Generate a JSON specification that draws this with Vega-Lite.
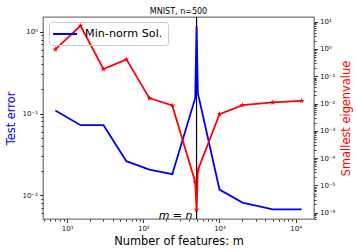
{
  "$schema": "https://vega.github.io/schema/vega-lite/v6.json",
  "width": 271,
  "height": 202,
  "autosize": {"type": "none"},
  "padding": {"left": 43, "top": 17, "right": 43, "bottom": 33},
  "background": "white",
  "title": {"text": "MNIST, n=500", "fontSize": 8, "font": "DejaVu Sans", "fontWeight": "normal", "color": "black", "offset": 0},
  "config": {
    "font": "DejaVu Sans",
    "view": {"stroke": "#777777", "strokeWidth": 1.3},
    "axis": {"grid": false, "domain": false, "labelFont": "DejaVu Sans", "labelFontSize": 7, "labelColor": "#111111", "tickColor": "#333333", "titleFont": "DejaVu Sans", "titleFontSize": 11.4, "titleFontWeight": "normal", "labelOverlap": false, "labelBound": false, "labelFlush": false}
  },
  "datasets": {
    "curves": [
      {"m": 7, "err": 0.109, "eig": 0.97},
      {"m": 15, "err": 0.072, "eig": 7.1},
      {"m": 30, "err": 0.072, "eig": 0.183},
      {"m": 60, "err": 0.0261, "eig": 0.416},
      {"m": 120, "err": 0.0206, "eig": 0.0158},
      {"m": 240, "err": 0.0181, "eig": 0.0085},
      {"m": 480, "err": 0.154, "eig": 0.0000133},
      {"m": 500, "err": 1.17, "eig": 0.00000129},
      {"m": 520, "err": 0.177, "eig": 0.0000358},
      {"m": 1000, "err": 0.01175, "eig": 0.00407},
      {"m": 2000, "err": 0.00814, "eig": 0.00873},
      {"m": 5000, "err": 0.00674, "eig": 0.01096},
      {"m": 12000, "err": 0.00674, "eig": 0.01256}
    ],
    "marker": [
      {"m": 500, "label": "m = n"}
    ]
  },
  "layer": [
    {
      "data": {"name": "marker"},
      "mark": {"type": "rule", "color": "black", "strokeWidth": 1.2},
      "encoding": {
        "x": {
          "field": "m", "type": "quantitative",
          "scale": {"type": "log", "domain": [4.82, 17400], "nice": false},
          "axis": {
            "title": "Number of features: m",
            "titleColor": "black",
            "titlePadding": 4,
            "values": [5,6,7,8,9,10,20,30,40,50,60,70,80,90,100,200,300,400,500,600,700,800,900,1000,2000,3000,4000,5000,6000,7000,8000,9000,10000],
            "labelExpr": "abs(datum.value/pow(10, round(log(datum.value)/LN10)) - 1) < 1e-6 ? '10' + (round(log(datum.value)/LN10) < 0 ? '⁻' : '') + ['⁰','¹','²','³','⁴','⁵','⁶','⁷','⁸','⁹'][abs(round(log(datum.value)/LN10))] : ''",
            "tickSize": {"condition": {"test": "abs(datum.value/pow(10, round(log(datum.value)/LN10)) - 1) < 1e-6", "value": 3.5}, "value": 2},
            "labelPadding": 2
          }
        }
      }
    },
    {
      "data": {"name": "curves"},
      "mark": {"type": "line", "strokeWidth": 1.8},
      "encoding": {
        "x": {"field": "m", "type": "quantitative"},
        "y": {
          "field": "err", "type": "quantitative",
          "scale": {"type": "log", "domain": [0.00513, 1.514], "nice": false},
          "axis": {
            "orient": "left",
            "title": "Test error",
            "titleColor": "#0000ff",
            "titleAngle": 270,
            "titleX": -32,
            "titleY": 101,
            "titleAlign": "center",
            "titleBaseline": "middle",
            "values": [0.006,0.007,0.008,0.009,0.01,0.02,0.03,0.04,0.05,0.06,0.07,0.08,0.09,0.1,0.2,0.3,0.4,0.5,0.6,0.7,0.8,0.9,1],
            "labelExpr": "abs(datum.value/pow(10, round(log(datum.value)/LN10)) - 1) < 1e-6 ? '10' + (round(log(datum.value)/LN10) < 0 ? '⁻' : '') + ['⁰','¹','²','³','⁴','⁵','⁶','⁷','⁸','⁹'][abs(round(log(datum.value)/LN10))] : ''",
            "tickSize": {"condition": {"test": "abs(datum.value/pow(10, round(log(datum.value)/LN10)) - 1) < 1e-6", "value": 3.5}, "value": 2},
            "labelPadding": 2
          }
        },
        "color": {
          "datum": "Min-norm Sol.",
          "scale": {"range": ["#0000ff"]},
          "legend": {
            "orient": "none", "legendX": 6, "legendY": 5,
            "title": null,
            "symbolType": "M-2,0L2,0", "symbolStrokeWidth": 2, "symbolSize": 144,
            "symbolOffset": 4,
            "labelFontSize": 11.2, "labelFont": "DejaVu Sans", "labelColor": "black",
            "labelOffset": 13,
            "fillColor": "rgba(255,255,255,0)", "strokeColor": "#cccccc",
            "padding": 5, "cornerRadius": 3
          }
        }
      }
    },
    {
      "data": {"name": "curves"},
      "mark": {"type": "line", "color": "#ff0000", "strokeWidth": 1.8,
        "point": {"shape": "M0,-1L0.2245,-0.309L0.951,-0.309L0.363,0.118L0.588,0.809L0,0.382L-0.588,0.809L-0.363,0.118L-0.951,-0.309L-0.2245,-0.309Z", "size": 36, "filled": true, "color": "#ff0000"}},
      "encoding": {
        "x": {"field": "m", "type": "quantitative"},
        "y": {
          "field": "eig", "type": "quantitative",
          "scale": {"type": "log", "domain": [5.82e-7, 14.9], "nice": false},
          "axis": {
            "orient": "right",
            "title": "Smallest eigenvalue",
            "titleColor": "#ff0000",
            "titleAngle": 270,
            "titleX": 32,
            "titleY": 101,
            "titleAlign": "center",
            "titleBaseline": "middle",
            "values": [6e-7,7e-7,8e-7,9e-7,1e-6,2e-6,3e-6,4e-6,5e-6,6e-6,7e-6,8e-6,9e-6,1e-5,2e-5,3e-5,4e-5,5e-5,6e-5,7e-5,8e-5,9e-5,1e-4,2e-4,3e-4,4e-4,5e-4,6e-4,7e-4,8e-4,9e-4,0.001,0.002,0.003,0.004,0.005,0.006,0.007,0.008,0.009,0.01,0.02,0.03,0.04,0.05,0.06,0.07,0.08,0.09,0.1,0.2,0.3,0.4,0.5,0.6,0.7,0.8,0.9,1,2,3,4,5,6,7,8,9,10],
            "labelExpr": "abs(datum.value/pow(10, round(log(datum.value)/LN10)) - 1) < 1e-6 ? '10' + (round(log(datum.value)/LN10) < 0 ? '⁻' : '') + ['⁰','¹','²','³','⁴','⁵','⁶','⁷','⁸','⁹'][abs(round(log(datum.value)/LN10))] : ''",
            "tickSize": {"condition": {"test": "abs(datum.value/pow(10, round(log(datum.value)/LN10)) - 1) < 1e-6", "value": 3.5}, "value": 2},
            "labelPadding": 2
          }
        }
      }
    },
    {
      "data": {"name": "marker"},
      "mark": {"type": "text", "align": "right", "baseline": "alphabetic", "dx": -4, "dy": 0, "fontSize": 11, "font": "DejaVu Sans", "fontStyle": "italic", "color": "black"},
      "encoding": {
        "x": {"field": "m", "type": "quantitative"},
        "y": {"datum": 0.00513, "type": "quantitative", "scale": {"type": "log", "domain": [0.00513, 1.514], "nice": false}, "axis": null},
        "text": {"field": "label"}
      }
    }
  ],
  "resolve": {"scale": {"y": "independent"}, "axis": {"y": "independent"}}
}
